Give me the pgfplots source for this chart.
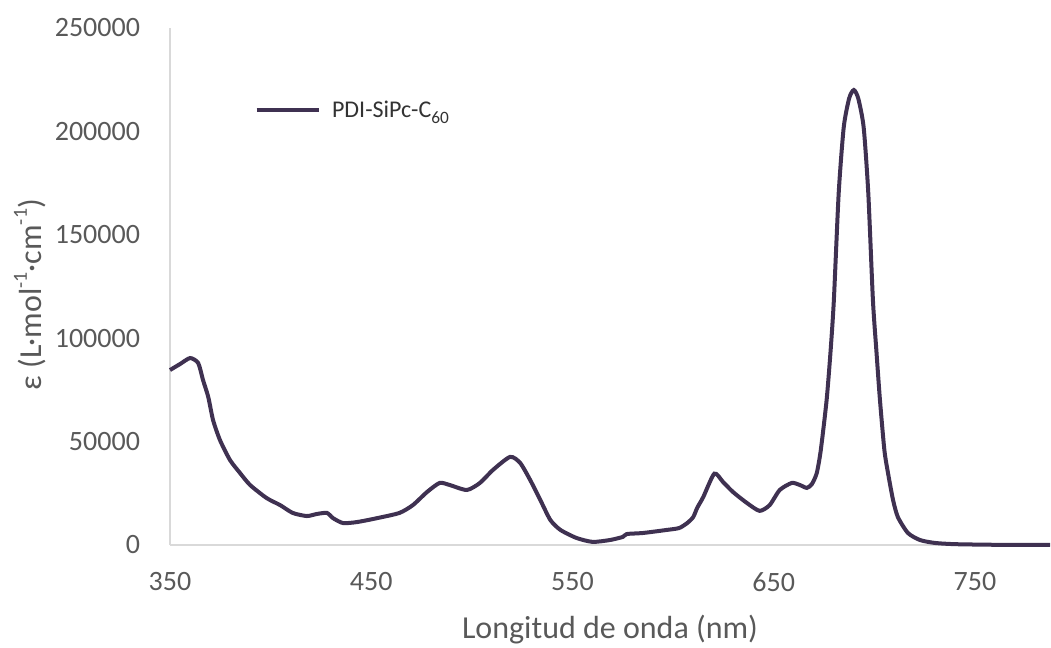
\documentclass[border=0pt]{standalone}
\usepackage{fontspec}
\setmainfont{Carlito}
\usepackage{pgfplots}
\pgfplotsset{compat=1.18}
\definecolor{linec}{HTML}{3F3151}
\definecolor{txtc}{HTML}{595959}
\definecolor{axc}{HTML}{D9D9D9}
\newcommand{\sups}[1]{\raisebox{0.45em}{\fontsize{15}{17}\selectfont #1}}
\newcommand{\subs}[1]{\raisebox{-0.25em}{\fontsize{13}{15}\selectfont #1}}
\begin{document}
\begin{tikzpicture}
\begin{axis}[
  at={(0,0)}, anchor=south west,
  scale only axis,
  width=660pt, height=387.75pt,
  xmin=350, xmax=787.3, ymin=0, ymax=250000,
  axis lines*=left,
  axis line style={draw=axc, line width=1.2pt},
  xtick={350,450,550,650,750},
  xticklabels={350,450,550,650,750},
  ytick={0,50000,100000,150000,200000,250000},
  yticklabels={0,50000,100000,150000,200000,250000},
  major tick length=0pt,
  scaled y ticks=false,
  tick label style={font=\fontsize{21}{24}\selectfont, text=txtc},
  xticklabel style={yshift=-17pt},
  yticklabel style={xshift=-19pt},
  xlabel={Longitud de onda (nm)},
  ylabel={ε (L·mol\sups{-1}·cm\sups{-1})},
  label style={font=\fontsize{24}{28}\selectfont, text=txtc},
  xlabel style={yshift=-11pt},
  ylabel style={at={(ticklabel cs:0.484)}, yshift=0pt},
  legend style={at={(0.096,0.841)}, anchor=west, draw=none, fill=none,
    font=\fontsize{18}{21}\selectfont, text=black!80, inner sep=0pt},
  legend image code/.code={\draw[#1, line width=3pt] (0pt,0pt) -- (47pt,0pt); \path (53pt,0pt);},
  clip=false,
]
\addplot[color=linec, line width=3pt, smooth, tension=0.4] coordinates {
(350,84600) (355,87500) (360,90400) (364,88000) (366.4,79800) (369,71600)
(371.4,60400) (374.8,50800) (379.8,41100) (384.8,34800) (389.8,29000)
(398,22700) (404.7,19300) (411,15500) (418,14000) (423,15000) (428,15500)
(431,13000) (436,10600) (443,11100) (453,13000) (464,15500) (470.7,19300)
(477.7,25600) (484,30000) (489,29000) (497.5,26600) (504,30000) (510.5,36300)
(519,42600) (524,39700) (529,31400) (534,21800) (539,12100) (544,7300)
(552,3400) (560,1500) (568.6,2400) (575,3900) (577,5300) (585,5800)
(597,7300) (603,8200) (607,10600) (610,13500) (612,18000) (615,23200)
(620.5,34500) (624.8,30500) (629.8,25600) (636.7,20300) (643,16500)
(648,19300) (653,26600) (659,30000) (663,29000) (666.5,27600) (669,29500)
(671.4,34800) (673.4,45900) (676.3,70100) (678.3,94300) (679.9,118500)
(682.3,170200) (684.8,202000) (687.5,216000) (689.8,220000) (692,216000)
(694.7,202000) (697,170200) (699.3,118500) (701,94300) (702.8,70100)
(705,45900) (706.8,34800) (709.3,21800) (711.7,13500) (716.7,5800)
(722.7,2400) (730,1000) (740,400) (760,100) (787.3,0)
};
\addlegendentry{PDI-SiPc-C\subs{60}}
\end{axis}
\pgfresetboundingbox
\path[use as bounding box] (-127.5pt,-77.25pt) rectangle (660.75pt,408.75pt);
\end{tikzpicture}
\end{document}
